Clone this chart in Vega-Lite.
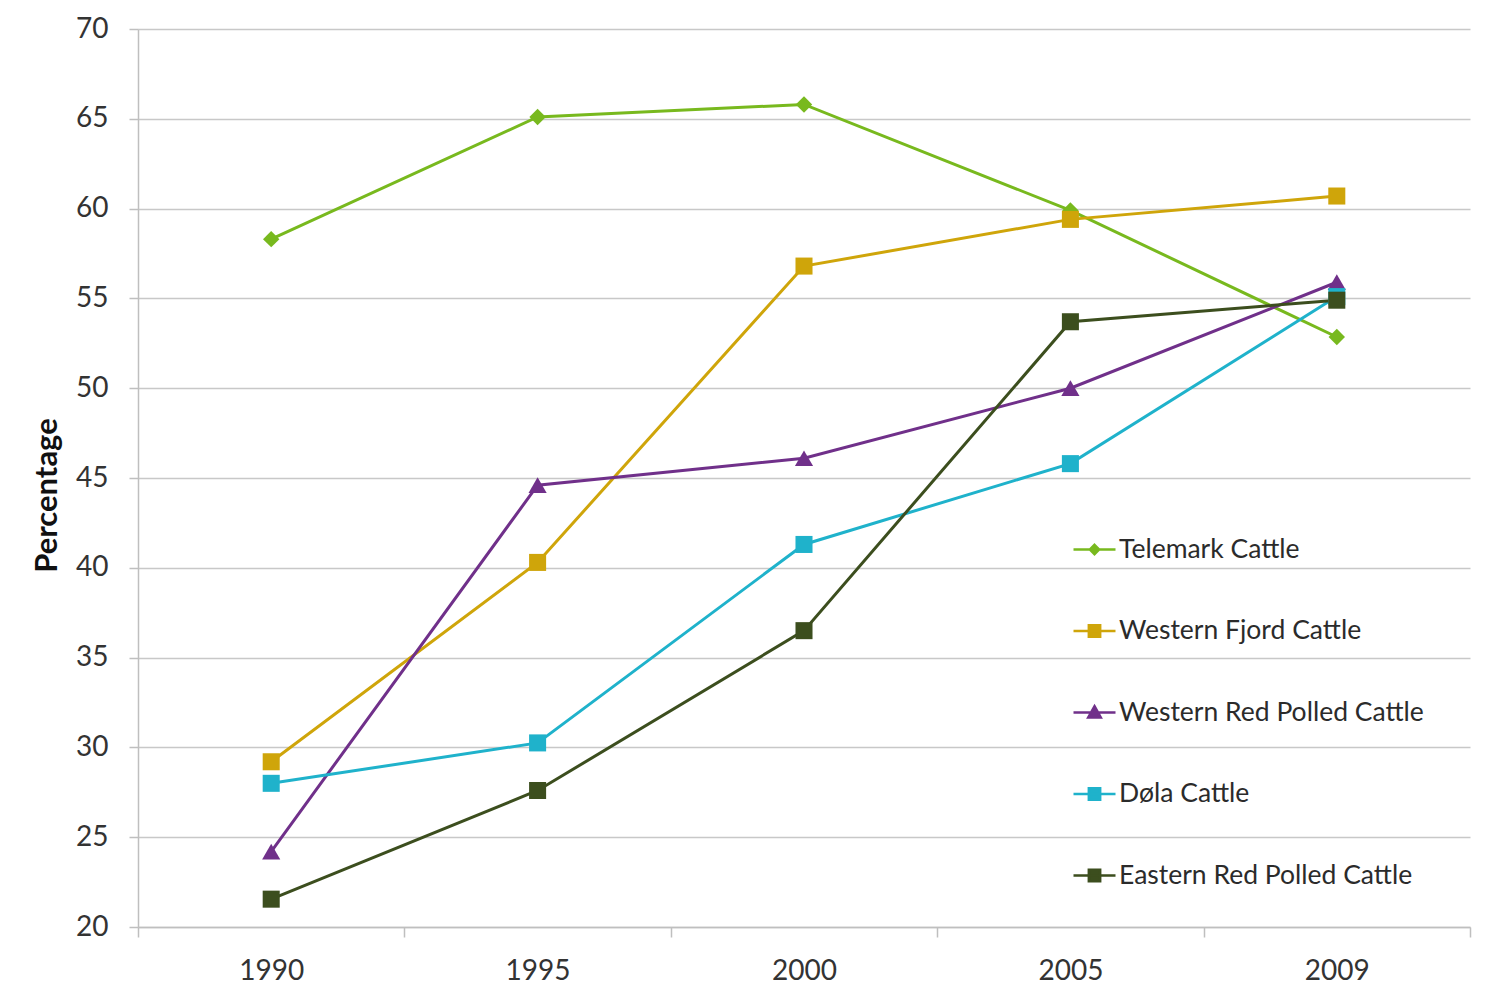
{
  "$schema": "https://vega.github.io/schema/vega-lite/v6.json",
  "autosize": "none",
  "width": 1332,
  "height": 898,
  "padding": {"left": 138, "top": 29, "right": 33, "bottom": 72},
  "background": "#ffffff",
  "config": {
    "font": "Lato",
    "view": {"stroke": null},
    "axis": {
      "labelFont": "Lato",
      "labelColor": "#333333",
      "titleFont": "Lato",
      "titleColor": "#111111"
    }
  },
  "data": {
    "values": [
      {"year": "1990", "breed": "Telemark Cattle", "value": 58.3},
      {"year": "1995", "breed": "Telemark Cattle", "value": 65.1},
      {"year": "2000", "breed": "Telemark Cattle", "value": 65.8},
      {"year": "2005", "breed": "Telemark Cattle", "value": 59.9},
      {"year": "2009", "breed": "Telemark Cattle", "value": 52.85},
      {"year": "1990", "breed": "Western Fjord Cattle", "value": 29.2},
      {"year": "1995", "breed": "Western Fjord Cattle", "value": 40.3},
      {"year": "2000", "breed": "Western Fjord Cattle", "value": 56.8},
      {"year": "2005", "breed": "Western Fjord Cattle", "value": 59.4},
      {"year": "2009", "breed": "Western Fjord Cattle", "value": 60.7},
      {"year": "1990", "breed": "Western Red Polled Cattle", "value": 24.2},
      {"year": "1995", "breed": "Western Red Polled Cattle", "value": 44.6},
      {"year": "2000", "breed": "Western Red Polled Cattle", "value": 46.1},
      {"year": "2005", "breed": "Western Red Polled Cattle", "value": 50.0},
      {"year": "2009", "breed": "Western Red Polled Cattle", "value": 55.9},
      {"year": "1990", "breed": "Døla Cattle", "value": 28.0},
      {"year": "1995", "breed": "Døla Cattle", "value": 30.25},
      {"year": "2000", "breed": "Døla Cattle", "value": 41.3},
      {"year": "2005", "breed": "Døla Cattle", "value": 45.8},
      {"year": "2009", "breed": "Døla Cattle", "value": 55.1},
      {"year": "1990", "breed": "Eastern Red Polled Cattle", "value": 21.55},
      {"year": "1995", "breed": "Eastern Red Polled Cattle", "value": 27.6},
      {"year": "2000", "breed": "Eastern Red Polled Cattle", "value": 36.5},
      {"year": "2005", "breed": "Eastern Red Polled Cattle", "value": 53.7},
      {"year": "2009", "breed": "Eastern Red Polled Cattle", "value": 54.9}
    ]
  },
  "encoding": {
    "x": {
      "field": "year",
      "type": "ordinal",
      "sort": null,
      "scale": {"type": "band", "paddingInner": 0, "paddingOuter": 0},
      "axis": {
        "title": null,
        "labelAngle": 0,
        "labelFontSize": 28,
        "labelPadding": 20,
        "tickBand": "extent",
        "tickSize": 10,
        "tickColor": "#BFBFBF",
        "tickWidth": 1.5,
        "domainColor": "#BFBFBF",
        "domainWidth": 1.5,
        "grid": false
      }
    },
    "y": {
      "field": "value",
      "type": "quantitative",
      "scale": {"domain": [20, 70], "nice": false, "zero": false},
      "axis": {
        "title": "Percentage",
        "titleFontSize": 31,
        "titleFontWeight": "bold",
        "titlePadding": 12,
        "titleY": 466,
        "values": [20, 25, 30, 35, 40, 45, 50, 55, 60, 65, 70],
        "labelFontSize": 28,
        "labelPadding": 21,
        "tickSize": 9,
        "tickColor": "#BFBFBF",
        "tickWidth": 1.5,
        "domainColor": "#BFBFBF",
        "domainWidth": 1.5,
        "gridColor": "#C8C8C8",
        "gridWidth": 1.5
      }
    },
    "color": {
      "field": "breed",
      "type": "nominal",
      "scale": {
        "domain": ["Telemark Cattle", "Western Fjord Cattle", "Western Red Polled Cattle", "Døla Cattle", "Eastern Red Polled Cattle"],
        "range": ["#78B91E", "#CFA50A", "#70308A", "#1FB2CB", "#3C4E1E"]
      },
      "legend": {
        "orient": "none",
        "legendX": 934,
        "legendY": 498,
        "title": null,
        "padding": 0,
        "symbolSize": 1764,
        "symbolStrokeWidth": 2.5,
        "labelFont": "Lato",
        "labelFontSize": 26.5,
        "labelColor": "#2b2b2b",
        "labelLimit": 0,
        "labelOffset": 2,
        "rowPadding": 45.5,
        "encode": {
          "symbols": {
            "update": {
              "shape": {"signal": "datum.value === 'Telemark Cattle' ? 'M-1,0H1M0,-0.22L0.22,0L0,0.22L-0.22,0Z' : datum.value === 'Western Red Polled Cattle' ? 'M-1,0H1M0,-0.3L0.3,0.24H-0.3Z' : 'M-1,0H1M-0.27,-0.27H0.27V0.27H-0.27Z'"},
              "fill": {"scale": "color", "field": "value"},
              "stroke": {"scale": "color", "field": "value"},
              "fillOpacity": {"value": 1},
              "strokeOpacity": {"value": 1},
              "opacity": {"value": 1}
            }
          }
        }
      }
    }
  },
  "layer": [
    {
      "mark": {"type": "line", "strokeWidth": 3}
    },
    {
      "transform": [{"filter": "datum.breed === 'Telemark Cattle'"}],
      "mark": {"type": "point", "shape": "diamond", "filled": true, "opacity": 1, "size": 270}
    },
    {
      "transform": [{"filter": "datum.breed === 'Western Red Polled Cattle'"}],
      "mark": {"type": "point", "shape": "triangle-up", "filled": true, "opacity": 1, "size": 330}
    },
    {
      "transform": [{"filter": "datum.breed !== 'Telemark Cattle' && datum.breed !== 'Western Red Polled Cattle'"}],
      "mark": {"type": "point", "shape": "square", "filled": true, "opacity": 1, "size": 290}
    }
  ]
}
